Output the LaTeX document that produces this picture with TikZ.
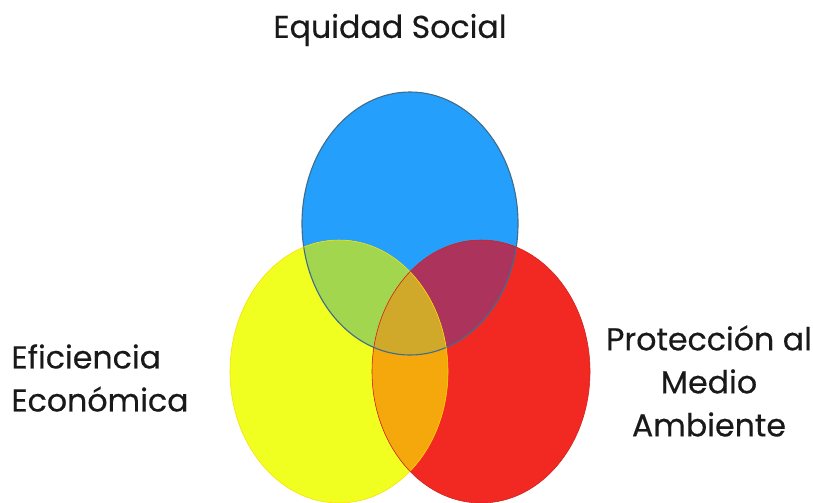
\documentclass[tikz,border=0pt]{standalone}
\usepackage{fontspec}
\setmainfont{Poppins}[FakeBold=0.4]
\definecolor{setblue}{RGB}{36,160,252}
\definecolor{setyellow}{RGB}{240,254,32}
\definecolor{setred}{RGB}{242,40,35}
\definecolor{mixgreen}{RGB}{162,214,78}
\definecolor{mixmaroon}{RGB}{172,52,92}
\definecolor{mixorange}{RGB}{244,168,12}
\definecolor{mixcore}{RGB}{208,168,42}
\tikzset{
    label/.style={font=\fontsize{22.5}{30.6}\selectfont, text=black!90, inner sep=0},
    rim/.style={line width=0.8pt},
    thin/.style={line width=0.4pt}
    }
\def\setsocial{(410,223.5) ellipse [x radius=108, y radius=131.5]}
\def\seteco{(339,371.5) ellipse [x radius=109, y radius=131.5]}
\def\setamb{(481,371.5) ellipse [x radius=109, y radius=131.5]}

\begin{document}
\begin{tikzpicture}[x=0.025cm, y=-0.025cm]
                \useasboundingbox (0,0) rectangle (813,502);
                % The sets
                \fill[setblue] \setsocial;
                \fill[setyellow] \seteco;
                \fill[setred] \setamb;
                % The overlaps
                \begin{scope}
                    \clip \setsocial;
                    \fill[mixgreen] \seteco;
                    \fill[mixmaroon] \setamb;
                \end{scope}
                \begin{scope}
                    \clip \seteco;
                    \fill[mixorange] \setamb;
                    \clip \setamb;
                    \fill[mixcore] \setsocial;
                \end{scope}
                % The rims
                \draw[rim, draw=setblue!45!black!80] \setsocial;
                \draw[thin, draw=yellow!80!orange] \seteco;
                \draw[thin, draw=setred!85!black] \setamb;
                % The labels
                \node(social)[label] at (390,30) {Equidad Social};
                \node(eco)[label, align=left] at (100,378) {Eficiencia\\Económica};
                \node(amb)[label, align=center] at (709,381) {Protección al\\Medio\\Ambiente};
            \end{tikzpicture}
\end{document}
